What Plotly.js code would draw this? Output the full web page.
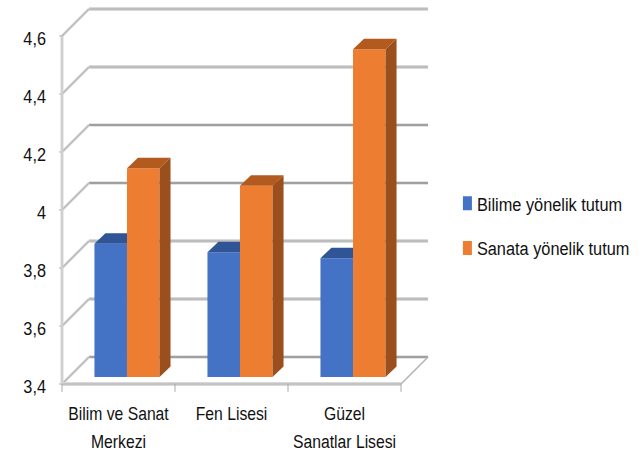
<!DOCTYPE html>
<html><head><meta charset="utf-8">
<script src="https://cdn.plot.ly/plotly-3.0.1.min.js"></script>
<style>html,body{margin:0;padding:0;background:#fff}</style></head>
<body><div id="chart" style="width:643px;height:453px"></div>
<script>
const categories = ["Bilim ve Sanat<br>Merkezi", "Fen Lisesi", "Güzel<br>Sanatlar Lisesi"];
const seriesNames = ["Bilime yönelik tutum", "Sanata yönelik tutum"];
const bilime = [3.86, 3.83, 3.81];
const sanata = [4.12, 4.06, 4.53];
const yTicks = [3.4, 3.6, 3.8, 4.0, 4.2, 4.4, 4.6];
const yTickLabels = ["3,4", "3,6", "3,8", "4", "4,2", "4,4", "4,6"];

const font = '"Liberation Sans",sans-serif';
const catPos = categories.map((c, i) => i);
const wallDx = 0.239, wallDy = 0.0931;      // wall depth
const barDx = 0.0973, barDy = 0.0362;       // bar depth
const baseShift = 0.024, barW = 0.288, shift = 0.075;
const yMin = yTicks[0], yMax = yTicks[yTicks.length - 1];
const xL = -0.5, xR = 2.5;
const gridDark = [true, false, false, true, true, false, false];

const shapes = [];
const line = (x0, y0, x1, y1, color, width) => shapes.push({
  type: 'line', layer: 'below', xref: 'x', yref: 'y', x0, y0, x1, y1, line: {color, width}
});
yTicks.forEach((t, i) => {
  line(xL + wallDx, t + wallDy, xR + wallDx, t + wallDy, '#e4e4e4', 4);
  line(xL + wallDx, t + wallDy, xR + wallDx, t + wallDy, gridDark[i] ? '#a0a0a0' : '#bdbdbd', gridDark[i] ? 1.8 : 2.6);
  line(xL, t, xL + wallDx, t + wallDy, '#e2e2e2', 3);
  line(xL, t, xL + wallDx, t + wallDy, '#b5b5b5', 1.4);
  line(xL - 0.025, t, xL, t, '#a0a0a0', 1);
});
line(xL, yMin, xL, yMax, '#cfcfcf', 2.8);
line(xL, yMin, xR, yMin, '#e0e0e0', 4);
line(xL, yMin, xR, yMin, '#c4c4c4', 2.4);
line(xR, yMin, xR + wallDx, yMin + wallDy, '#b5b5b5', 1.6);
[-0.5, 0.5, 1.5, 2.5].forEach(x => line(x, yMin, x, yMin - 0.027, '#a8a8a8', 1));

const base = yMin + baseShift;
const bar = (name, vals, off, color) => ({
  type: 'bar', name, x: catPos, y: vals.map(v => v - yMin), base: vals.map(() => base),
  offset: off, width: barW, marker: {color, line: {width: 0}}, legendgroup: name, hoverinfo: 'skip'
});
const face = (xs, ys, color) => ({
  type: 'scatter', mode: 'lines', x: xs, y: ys, fill: 'toself', fillcolor: color,
  line: {width: 0, color}, showlegend: false, hoverinfo: 'skip'
});
const faces = [];
catPos.forEach((c, i) => {
  const bl = c + shift - barW, br = c + shift, ol = br, or = br + barW;
  const bt = bilime[i] + baseShift, ot = sanata[i] + baseShift;
  faces.push(face([bl, bl + barDx, br, br, bl], [bt, bt + barDy, bt + barDy, bt, bt], '#2f5597'));
  faces.push(face([ol, ol + barDx, or + barDx, or, ol], [ot, ot + barDy, ot + barDy, ot, ot], '#b35a1f'));
  faces.push(face([or, or + barDx, or + barDx, or, or], [base, base + barDy, ot + barDy, ot, base], '#9a4f1c'));
});

const traces = [
  bar(seriesNames[0], bilime, shift - barW, '#4472c4'),
  bar(seriesNames[1], sanata, shift, '#ed7d31'),
  ...faces
];
const layout = {
  width: 643, height: 453, paper_bgcolor: '#fff', plot_bgcolor: 'rgba(0,0,0,0)',
  margin: {l: 54, r: 211, t: 6, b: 61, autoexpand: false}, barmode: 'overlay', shapes,
  font: {family: font, color: '#111', size: 17},
  xaxis: {range: [-0.5708, 2.774], tickmode: 'array', tickvals: catPos,
    ticktext: categories.map(c => '<span style="font-size:18.5px">' + c.replace('<br>', '</span><br><span style="font-size:18.5px">') + '</span>'),
    tickfont: {size: 21.5, family: font, color: '#111'},
    showgrid: false, zeroline: false, showline: false, ticks: '', ticklabelstandoff: 6},
  yaxis: {range: [3.3724, 4.7034], tickmode: 'array', tickvals: yTicks, ticktext: yTickLabels,
    tickfont: {size: 18.5, family: font, color: '#111'},
    showgrid: false, zeroline: false, showline: false, ticks: '', ticklabelstandoff: 7},
  showlegend: true,
  legend: {x: 1.013, xanchor: 'left', y: 0.43, yanchor: 'middle', traceorder: 'grouped',
    tracegroupgap: 17, font: {size: 19, family: font, color: '#111'}, bgcolor: 'rgba(0,0,0,0)'}
};
const squeeze = (el, k, dy) => {
  const x = parseFloat(el.getAttribute('x')) || 0;
  const t = el.getAttribute('transform') || '';
  el.setAttribute('transform', `${t} translate(${x},${dy}) scale(${k},1) translate(${-x},0)`);
};
Plotly.newPlot('chart', traces, layout, {displayModeBar: false, staticPlot: true}).then(gd => {
  gd.querySelectorAll('.legend .legendpoints path').forEach(p => p.setAttribute('d', 'M6,-7h9v14h-9z'));
  gd.querySelectorAll('.legend text.legendtext').forEach(t => squeeze(t, 0.86, 0));
  gd.querySelectorAll('.xtick text').forEach(t => squeeze(t, 0.85, 0));
  gd.querySelectorAll('.ytick text').forEach(t => squeeze(t, 0.88, 3));
});
</script></body></html>
